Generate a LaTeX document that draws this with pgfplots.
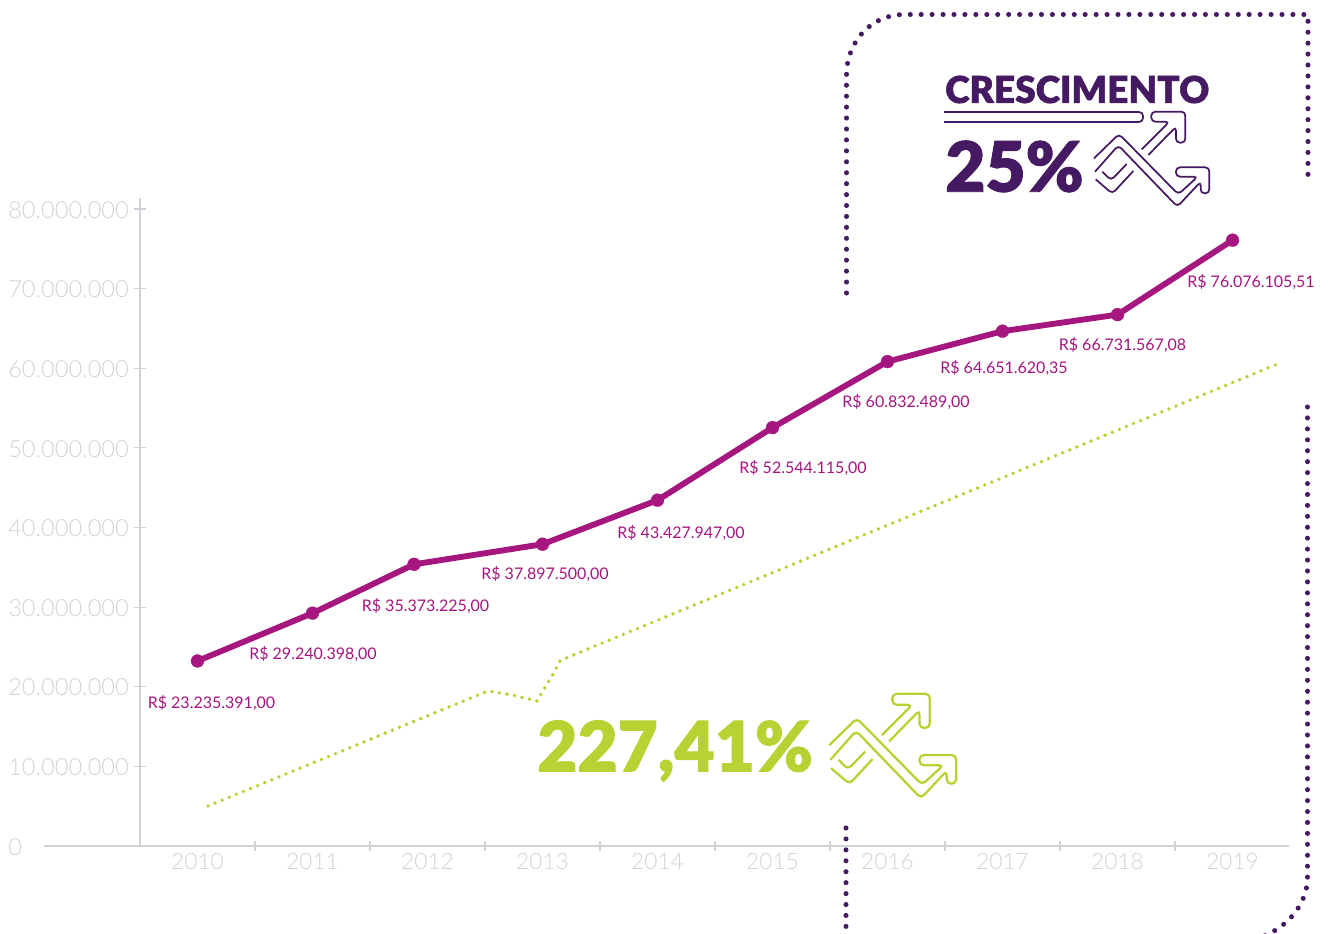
\documentclass[border=0pt]{standalone}
\usepackage{fontspec}
\usepackage{pgfplots}
\pgfplotsset{compat=1.18}
\setmainfont{Lato}
\newfontfamily\heavy[FakeBold=1.3]{Lato Black}
\newfontfamily\lightf{Lato Light}
\definecolor{axisgray}{HTML}{CFD2D7}
\definecolor{mag}{HTML}{A5167F}
\definecolor{lime}{HTML}{B9D132}
\definecolor{deep}{HTML}{451A62}
\newcommand{\iconpaths}{%
  \draw (0,140) -- (75,67) -- (253,248) -- (311,195) -- (246,195) -- (246,167) -- (346,167) -- (346,245) -- (320,245) -- (320,210) -- (250,285) -- (73,101) -- (3,180);
  \draw (143,113) -- (226,30) -- (172,30) -- (172,0) -- (274,0) -- (274,93) -- (246,93) -- (246,45) -- (163,130);
  \draw (98,157) -- (51,206) -- (25,180);
  \draw (5,203) -- (55,246) -- (118,178);
}
\begin{document}
\begin{tikzpicture}
\useasboundingbox (0,0) rectangle (996pt,700.5pt);
\clip (0,0) rectangle (996pt,700.5pt);
\begin{axis}[
  at={(105pt,66pt)}, anchor=south west,
  scale only axis, width=861.75pt, height=486pt,
  xmin=-0.5, xmax=9.491, ymin=0, ymax=81.38,
  axis x line=bottom, axis y line=left,
  axis line style={draw=axisgray, line width=1.1pt, -},
  clip=false,
  xtick={0,...,9},
  xticklabels={2010,2011,2012,2013,2014,2015,2016,2017,2018,2019},
  minor xtick={0.5,1.5,2.5,3.5,4.5,5.5,6.5,7.5,8.5},
  ytick={0,10,...,80},
  yticklabels={0,10.000.000,20.000.000,30.000.000,40.000.000,50.000.000,60.000.000,70.000.000,80.000.000},
  major tick length=9pt, minor tick length=8pt,
  tick align=center,
  xtick style={draw=none},
  ytick style={draw=axisgray, line width=0.9pt},
  minor x tick style={draw=axisgray, line width=0.9pt},
  xticklabel style={font=\lightf\fontsize{17}{17}\selectfont, text=axisgray, yshift=2.4pt},
  yticklabel style={font=\lightf\fontsize{17.7}{17.7}\selectfont, text=axisgray, anchor=west, inner sep=0pt, xshift=-94.5pt, yshift=-0.6pt},
]
\addplot[draw=lime, line width=2.9pt, line cap=round, dash pattern=on 0pt off 5.75pt] coordinates {
  (0.091,5.02) (2.526,19.47) (2.6,19.3) (2.74,18.95) (2.952,18.21)
  (2.987,19.09) (3.096,21.7) (3.152,23.23) (3.22,23.7) (9.42,60.7)};
\addplot[draw=mag, line width=4.4pt, mark=*, mark size=4.9pt, mark options={fill=mag, draw=mag, line width=0.1pt}] coordinates {
  (0,23.235) (1,29.240) (1.883,35.373) (3,37.898) (4,43.428)
  (5,52.544) (6,60.832) (7,64.652) (8,66.732) (9,76.076)};
\end{axis}
\begin{scope}[shift={(0,700.5pt)}, x=0.75pt, y=-0.75pt]
  \draw[axisgray, line width=1.1pt] (44,846) -- (140,846);
  % dotted frame
  \begin{scope}[draw=deep, line width=3.8pt, line cap=round, dash pattern=on 0pt off 8.2pt]
    \draw (846.5,293) -- (846.5,75) .. controls (846.5,45) and (868,14.5) .. (905,14.5) -- (1308,14.5) -- (1308,182);
    \draw (1307.5,407) -- (1307.5,878) .. controls (1307.5,900) and (1292,925) .. (1262,937);
    \draw (846,828) -- (846,932);
  \end{scope}
  % data labels
  \begin{scope}[text=mag, font=\fontsize{12}{12}\selectfont, inner sep=0pt]
    \node at (211.5,703.5) {R\$ 23.235.391,00};
    \node at (313,654.5) {R\$ 29.240.398,00};
    \node at (425.5,606.5) {R\$ 35.373.225,00};
    \node at (545,574.5) {R\$ 37.897.500,00};
    \node at (681,533.5) {R\$ 43.427.947,00};
    \node at (803,468.5) {R\$ 52.544.115,00};
    \node at (906,402.5) {R\$ 60.832.489,00};
    \node at (1004,368.5) {R\$ 64.651.620,35};
    \node at (1122.5,345.5) {R\$ 66.731.567,08};
    \node at (1251,282.5) {R\$ 76.076.105,51};
  \end{scope}
  % headline
  \node[anchor=west, inner sep=0pt, text=deep, font=\heavy\fontsize{27.8}{28}\selectfont] at (945,89.5) {CRESCIMENTO};
  \node[anchor=west, inner sep=0pt, text=deep, font=\heavy\fontsize{52}{52}\selectfont] at (945,166.5) {25\%};
  \node[anchor=west, inner sep=0pt, text=lime, font=\heavy\fontsize{52}{52}\selectfont] at (537,751) {227,41\%};
  \draw[deep, line width=1.3pt, rounded corners=3pt] (944,112) -- (1143,112) -- (1143,122) -- (944,122);
  \begin{scope}[shift={(1094,111.7)}, x=0.25pt, y=-0.25pt, draw=deep, line width=1.3pt, rounded corners=3pt]
    \iconpaths
  \end{scope}
  \begin{scope}[shift={(829.3,693.8)}, x=0.275pt, y=-0.275pt, draw=lime, line width=1.7pt, rounded corners=3.3pt]
    \iconpaths
  \end{scope}
\end{scope}
\end{tikzpicture}
\end{document}
